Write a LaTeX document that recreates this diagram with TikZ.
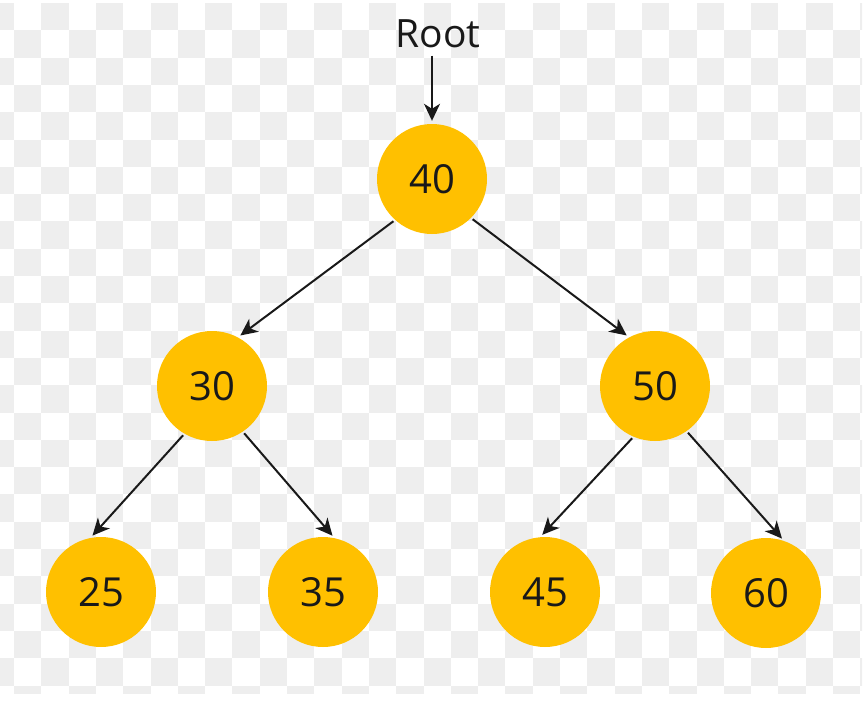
\documentclass[tikz,border=0pt]{standalone}
\usepackage{fontspec}
\setmainfont{Open Sans}
\usetikzlibrary{arrows.meta}
\definecolor{amber}{HTML}{FFC000}
\definecolor{checker}{HTML}{EEEEEE}
\tikzset{keynode/.style = {fill=amber, circle, minimum size=110pt, inner sep=0pt, font=\fontsize{40}{42}\selectfont, text=black!90},
         label/.style = {font=\fontsize{39}{41}\selectfont, text=black!90},
         link/.style = {-{Stealth[length=17pt,width=16pt,inset=5pt]}, line width=2pt, black!90, shorten >=3pt, shorten <=2pt}}
\begin{document}
\begin{tikzpicture}[x=1pt,y=-1pt]
        \useasboundingbox (0,0) rectangle (868,702);
        % checkered background
        \begin{scope}
            \clip (0,3) rectangle (862,693);
            \foreach \j [evaluate=\j as \xo using {-13.3+27.3*mod(\j,2)}] in {0,...,25}
                \foreach \m in {0,...,16}
                    \fill[checker] (\xo+54.6*\m,3+27.3*\j) rectangle +(27.3,27.3);
        \end{scope}

        \node[keynode](n40)at(432,179){40};
        \node[keynode](n30)at(212,386){30};
        \node[keynode](n50)at(655,386){50};
        \node[keynode](n25)at(101,592){25};
        \node[keynode](n35)at(323,592){35};
        \node[keynode](n45)at(545,592){45};
        \node[keynode](n60)at(766,593){60};
        \node[label](root)at(438,34){Root};

        \draw[link, shorten <=4pt](root.south -| n40)--(n40.north);
        \draw[link](n40.228)--(n30.62);
        \draw[link](n40.315)--(n50.118);
        \draw[link](n30.240)--(n25.101);
        \draw[link](n30.304)--(n35.78);
        \draw[link](n50.247)--(n45.95);
        \draw[link](n50.305)--(n60.71);
    \end{tikzpicture}
\end{document}
